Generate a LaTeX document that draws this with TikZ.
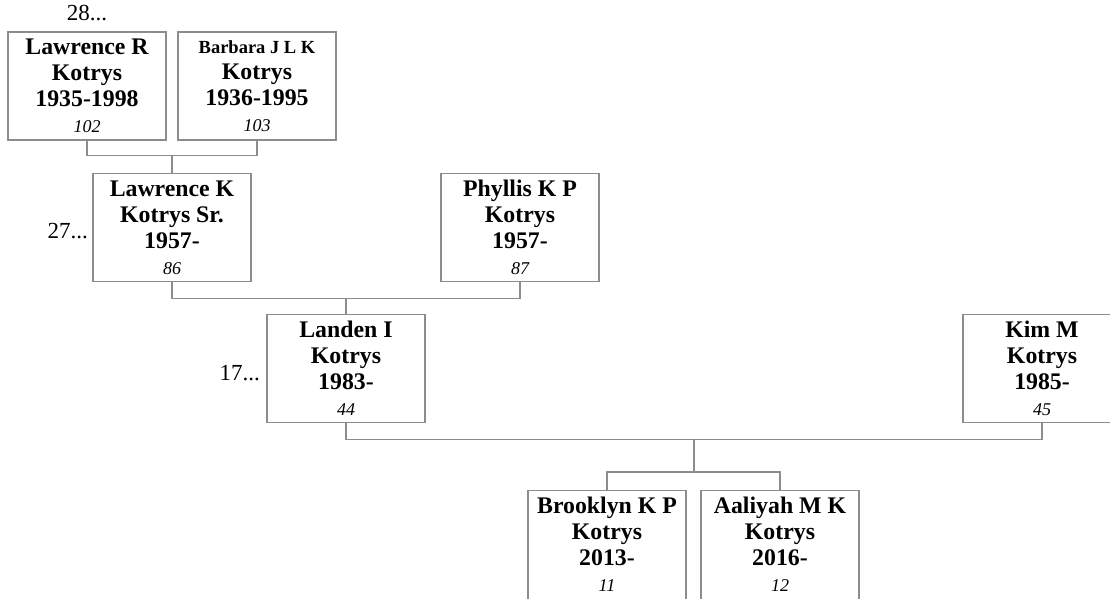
\documentclass[tikz,border=0pt]{standalone}
\usepackage{fontspec}
\setmainfont{Liberation Serif}
\usetikzlibrary{calc}
\definecolor{linegray}{RGB}{140,140,140}
\tikzset{
  box/.style={draw=linegray, line width=1.3pt, fill=white, minimum width=158pt, minimum height=108pt, inner sep=0pt},
  txt/.style={align=center, inner sep=0pt, font=\bfseries\fontsize{23.8}{26}\selectfont},
  conn/.style={draw=linegray, line width=1.3pt},
  gen/.style={inner sep=0pt, font=\fontsize{23}{26}\selectfont},
}
\newcommand{\idn}[1]{{\fontsize{18}{26}\selectfont\mdseries\itshape #1}}
\begin{document}
\begin{tikzpicture}[x=1pt,y=-1pt]
\useasboundingbox (0,0) rectangle (1110,599);
\clip (0,0) rectangle (1110,599);
% boxes
\node[box] (p102) at (87,86) {};
\node[box] (p103) at (257,86) {};
\node[box] (p86) at (172,227.5) {};
\node[box] (p87) at (520,227.5) {};
\node[box] (p44) at (346,368.5) {};
\node[box] (p45) at (1042,368.5) {};
\node[box, minimum height=130pt, anchor=north] (p11) at (607,490) {};
\node[box, minimum height=130pt, anchor=north] (p12) at (780,490) {};
% texts
\node[txt] (t102) at (p102.center) {Lawrence R\\Kotrys\\1935-1998\\\idn{102}};
\node[txt] (t103) at (p103.center) {{\fontsize{18.5}{26}\selectfont Barbara J L K}\\Kotrys\\1936-1995\\\idn{103}};
\node[txt] (t86) at (p86.center) {Lawrence K\\Kotrys Sr.\\1957-\\\idn{86}};
\node[txt] (t87) at (p87.center) {Phyllis K P\\Kotrys\\1957-\\\idn{87}};
\node[txt] (t44) at (p44.center) {Landen I\\Kotrys\\1983-\\\idn{44}};
\node[txt] (t45) at (p45.center) {Kim M\\Kotrys\\1985-\\\idn{45}};
\node[txt] (t11) at ($(p11.north)+(0,54)$) {Brooklyn K P\\Kotrys\\2013-\\\idn{11}};
\node[txt] (t12) at ($(p12.north)+(0,54)$) {Aaliyah M K\\Kotrys\\2016-\\\idn{12}};
% generation labels
\node[gen, anchor=base] (g28) at (87,21) {28...};
\node[gen, anchor=base east] (g27) at (88,238) {27...};
\node[gen, anchor=base east] (g17) at (260,380) {17...};
% connectors
\draw[conn] (p102.south) -- ++(0,15) -| (p103.south);
\coordinate (j1) at ($(p102.south)!0.5!(p103.south)+(0,15)$);
\draw[conn] (j1) -- (j1 |- p86.north);
\draw[conn] (p86.south) -- ++(0,16) -| (p87.south);
\coordinate (j2) at ($(p86.south)!0.5!(p87.south)+(0,16)$);
\draw[conn] (j2) -- (j2 |- p44.north);
\draw[conn] (p44.south) -- ++(0,16) -| (p45.south);
\coordinate (j3) at ($(p44.south)!0.5!(p45.south)+(0,16)$);
\draw[conn] (p11.north) -- ++(0,-18) -| (p12.north);
\coordinate (j4) at ($(p11.north)+(0,-18)$);
\draw[conn] (j3) -- (j3 |- j4);
\end{tikzpicture}
\end{document}
